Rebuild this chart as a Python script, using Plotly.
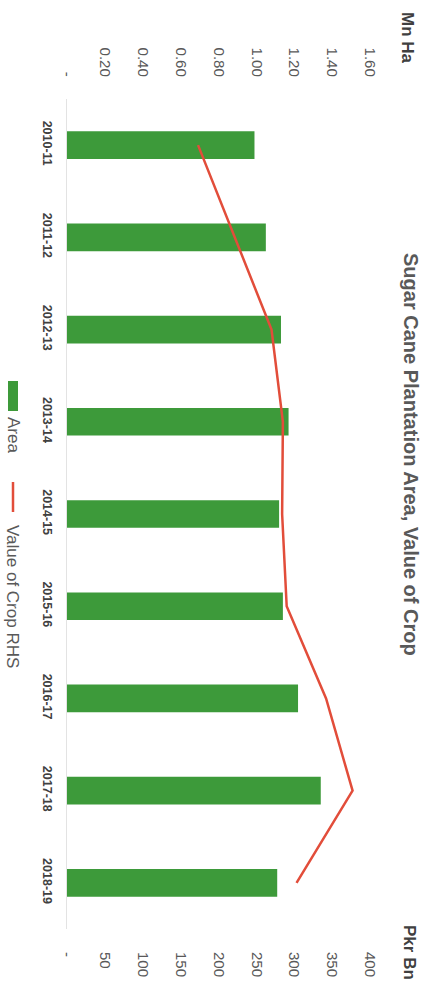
import plotly.graph_objects as go

# ---- data ----
categories = ["2010-11", "2011-12", "2012-13", "2013-14", "2014-15",
              "2015-16", "2016-17", "2017-18", "2018-19"]
area_mn_ha = [0.99, 1.05, 1.13, 1.17, 1.12, 1.14, 1.22, 1.34, 1.11]
value_pkr_bn = [173, 222, 270, 285, 284, 290, 342, 377, 303]
area_ticks = [0, 0.2, 0.4, 0.6, 0.8, 1.0, 1.2, 1.4, 1.6]
area_ticktext = ["-", "0.20", "0.40", "0.60", "0.80", "1.00", "1.20", "1.40", "1.60"]
value_ticks = [0, 50, 100, 150, 200, 250, 300, 350, 400]
value_ticktext = ["-", "50", "100", "150", "200", "250", "300", "350", "400"]

W, H = 427, 990
L, R, T, B = 67, 370, 99, 929  # plot area in pixels

def px(x):
    return (x - L) / (R - L)

def py(y):
    return (B - y) / (B - T)

GREEN = "#3D9A3A"
RED = "#E24D3A"
TXT = "#595959"
FONT = "Liberation Sans, Arial, sans-serif"

fig = go.Figure()
fig.add_trace(go.Bar(
    x=area_mn_ha, y=categories, orientation="h",
    marker=dict(color=GREEN, line=dict(width=0)),
    name="Area", xaxis="x", yaxis="y", showlegend=False,
))
fig.add_trace(go.Scatter(
    x=value_pkr_bn, y=categories, mode="lines",
    line=dict(color=RED, width=2.5),
    name="Value of Crop RHS", xaxis="x2", yaxis="y", showlegend=False,
))

fig.update_layout(
    width=W, height=H,
    margin=dict(l=L, r=W - R, t=T, b=H - B, pad=0, autoexpand=False),
    paper_bgcolor="white", plot_bgcolor="white",
    bargap=0.7,
    font=dict(family=FONT, color=TXT),
    xaxis=dict(
        side="top", range=[0, 1.6], tickvals=area_ticks, ticktext=area_ticktext,
        tickangle=90, showgrid=False, zeroline=False, showline=False, ticks="",
        tickfont=dict(size=15, color=TXT), ticklabelstandoff=19, automargin=False,
    ),
    xaxis2=dict(
        side="bottom", overlaying="x", anchor="y", range=[0, 400],
        tickvals=value_ticks, ticktext=value_ticktext,
        tickangle=90, showgrid=False, zeroline=False, showline=False, ticks="",
        tickfont=dict(size=15, color=TXT), ticklabelstandoff=22, automargin=False,
    ),
    yaxis=dict(
        type="category", categoryorder="array", categoryarray=categories,
        autorange="reversed", tickangle=90, showgrid=False, zeroline=False,
        showline=True, linecolor="#E3E3E3", linewidth=1, ticks="",
        tickfont=dict(size=12.5, color="#404040"),
        ticklabelstandoff=8, automargin=False,
        tickvals=categories, ticktext=["<b>%s</b>" % c for c in categories],
    ),
)

annotations = [
    dict(text="<b>Sugar Cane Plantation Area, Value of Crop</b>", x=px(411), y=py(454),
         textangle=90, font=dict(size=20, color=TXT)),
    dict(text="<b>Mn Ha</b>", x=px(408), y=py(38), textangle=90,
         font=dict(size=17, color="#404040")),
    dict(text="<b>Pkr Bn</b>", x=px(410), y=py(952), textangle=90,
         font=dict(size=17, color="#404040")),
    dict(text="Area", x=px(13), y=py(435), textangle=90,
         font=dict(size=17, color=TXT)),
    dict(text="Value of Crop RHS", x=px(13), y=py(596), textangle=90,
         font=dict(size=17, color=TXT)),
]
for a in annotations:
    a.update(xref="paper", yref="paper", showarrow=False,
             xanchor="center", yanchor="middle")
fig.update_layout(annotations=annotations)

fig.update_layout(shapes=[
    dict(type="rect", xref="paper", yref="paper",
         x0=px(8), x1=px(18), y0=py(381), y1=py(411),
         fillcolor=GREEN, line=dict(width=0)),
    dict(type="line", xref="paper", yref="paper",
         x0=px(13), x1=px(13), y0=py(482), y1=py(512),
         line=dict(color=RED, width=2.5)),
])

fig.write_html("out.html", config={"displayModeBar": False},
               post_script="document.body.style.margin='0';document.body.style.padding='0';")
